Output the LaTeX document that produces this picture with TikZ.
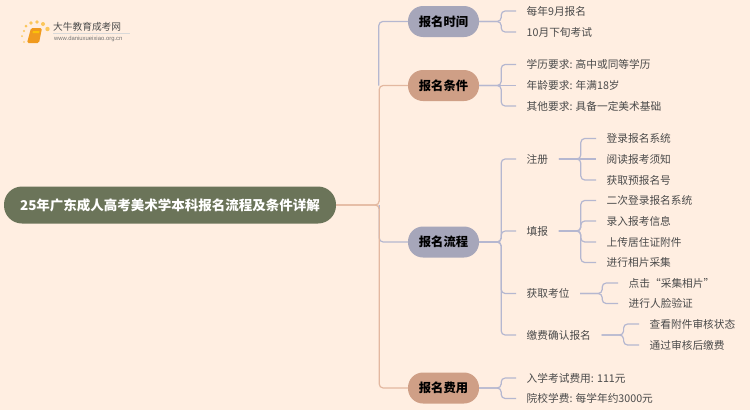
\documentclass[tikz,border=0pt]{standalone}
\usepackage{fontspec}
\setmainfont{Noto Sans CJK SC}
\newfontfamily\latinsans{Liberation Sans}
\definecolor{bgc}{HTML}{FFEEE1}
\definecolor{rootc}{HTML}{6B7459}
\definecolor{lav}{HTML}{A6A6BA}
\definecolor{sal}{HTML}{CF9F86}
\definecolor{linel}{HTML}{B5B7D0}
\definecolor{lines}{HTML}{E3B8A0}
\definecolor{txt}{HTML}{4A4A4A}
\definecolor{bookc}{HTML}{F09A1E}
\definecolor{dotc}{HTML}{FBC65A}
\tikzset{
  x=1pt,y=-1pt,
  rootnode/.style={draw=none,fill=rootc,rounded corners=18pt,minimum width=332pt,minimum height=37pt,inner sep=0pt,text=white,font=\fontsize{13.5}{16}\selectfont\bfseries},
  branchnode/.style={fill=#1,rounded corners=15pt,minimum width=71pt,minimum height=31pt,inner sep=0pt,text=black,font=\fontsize{12.3}{14}\selectfont\bfseries},
  leafnode/.style={anchor=west,inner xsep=10.5pt,inner ysep=3pt,text=txt,font=\fontsize{10.7}{12}\selectfont},
  conn/.style={line width=1.2pt,rounded corners=4pt},
}
\begin{document}
\begin{tikzpicture}
\useasboundingbox[fill=bgc] (0,0) rectangle (750,410);
% logo
\foreach \px/\py/\r in {26/26/1.5,31/23/1.8,37/22/1.9,43/24/2,47.5/29/2.2,24/31/1.2,22/36/1,24/42/.8}
  \fill[dotc] (\px,\py) circle (\r);
\fill[bookc,rounded corners=1.5pt] (31,28) -- (42,28) -- (39,43) -- (27,43) -- cycle;
\fill[yellow!55!orange] (33,31) -- (39.5,31) -- (39,33) -- (32.5,33) -- cycle;
\fill[black!15] (53,33.2) rectangle (130,33.7);
\node[anchor=west,inner sep=0pt,text=black!70,font=\fontsize{9.7}{11}\selectfont] (logot) at (53,27) {大牛教育成考网};
\node[anchor=west,inner sep=0pt,text=black!55,font=\latinsans\fontsize{5.9}{7}\selectfont] (logou) at (54,39) {www.daniuxueixiao.org.cn};
% nodes
\node[rootnode] (root) at (170,205) {25年广东成人高考美术学本科报名流程及条件详解};
\node[branchnode=lav] (b1) at (443.5,21.5) {报名时间};
\node[branchnode=sal] (b2) at (443.5,85.5) {报名条件};
\node[branchnode=lav] (b3) at (443.5,242) {报名流程};
\node[branchnode=sal] (b4) at (443.5,388) {报名费用};
\node[leafnode] (a1) at (516,11) {每年9月报名};
\node[leafnode] (a2) at (516,32) {10月下旬考试};
\node[leafnode] (c1) at (516,64.5) {学历要求: 高中或同等学历};
\node[leafnode] (c2) at (516,85.5) {年龄要求: 年满18岁};
\node[leafnode] (c3) at (516,106) {其他要求: 具备一定美术基础};
\node[leafnode] (p1) at (516,159) {注册};
\node[leafnode] (p2) at (516,231) {填报};
\node[leafnode] (p3) at (516,293.5) {获取考位};
\node[leafnode] (p4) at (516,335) {缴费确认报名};
\node[leafnode] (r1) at (596,138.5) {登录报名系统};
\node[leafnode] (r2) at (596,159) {阅读报考须知};
\node[leafnode] (r3) at (596,180) {获取预报名号};
\node[leafnode] (f1) at (596,200.5) {二次登录报名系统};
\node[leafnode] (f2) at (596,221) {录入报考信息};
\node[leafnode] (f3) at (596,242) {上传居住证附件};
\node[leafnode] (f4) at (596,262.5) {进行相片采集};
\node[leafnode] (k1) at (618,283) {点击“采集相片”};
\node[leafnode] (k2) at (618,303.5) {进行人脸验证};
\node[leafnode] (m1) at (639,324) {查看附件审核状态};
\node[leafnode] (m2) at (639,345) {通过审核后缴费};
\node[leafnode] (e1) at (516,378) {入学考试费用: 111元};
\node[leafnode] (e2) at (516,398.5) {院校学费: 每学年约3000元};
% connectors
\draw[conn,linel] (root.east) ++(43,0) |- (b3.west);
\draw[conn,linel] (b2.west) ++(-29,0) |- (b1.west);
\draw[conn,lines] (root.east) -- ++(43,0) |- (b4.west);
\draw[conn,lines] (root.east) -- ++(43,0) |- (b2.west);
\foreach \t in {a1,a2} {\draw[conn,linel] (b1.east) -- ++(22,0) |- (\t.west);}
\foreach \t in {c1,c3} {\draw[conn,linel] (b2.east) -- ++(22,0) |- (\t.west);}
\draw[conn,linel] (b2.east) -- (c2.west);
\foreach \t in {p1,p2,p3,p4} {\draw[conn,linel] (b3.east) -- ++(22,0) |- (\t.west);}
\foreach \t in {e1,e2} {\draw[conn,linel] (b4.east) -- ++(22,0) |- (\t.west);}
\foreach \t in {r1,r3} {\draw[conn,linel] (p1.east) -- ++(22,0) |- (\t.west);}
\draw[conn,linel] (p1.east) -- (r2.west);
\foreach \t in {f1,f2,f3,f4} {\draw[conn,linel] (p2.east) -- ++(22,0) |- (\t.west);}
\foreach \t in {k1,k2} {\draw[conn,linel] (p3.east) -- ++(22,0) |- (\t.west);}
\foreach \t in {m1,m2} {\draw[conn,linel] (p4.east) -- ++(22,0) |- (\t.west);}
\end{tikzpicture}
\end{document}
